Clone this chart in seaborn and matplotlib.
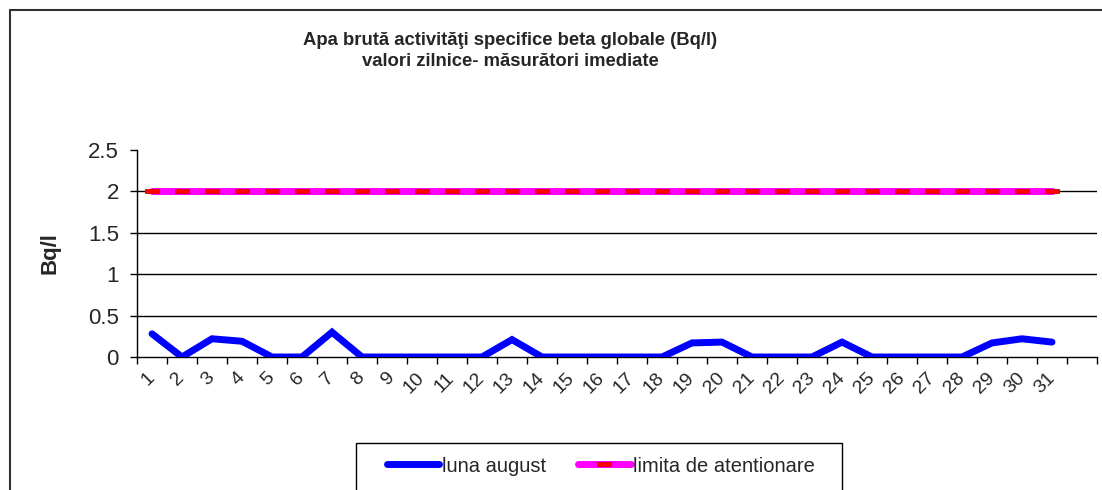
import matplotlib
matplotlib.use("Agg")
import matplotlib.pyplot as plt
import seaborn as sns
import pandas as pd
import numpy as np
from matplotlib.patches import Rectangle
from matplotlib.lines import Line2D

days = list(range(1, 32))
august = [0.28, 0.0, 0.22, 0.19, 0.0, 0.0, 0.30, 0.0, 0.0, 0.0,
          0.0, 0.0, 0.21, 0.0, 0.0, 0.0, 0.0, 0.0, 0.17, 0.18,
          0.0, 0.0, 0.0, 0.18, 0.0, 0.0, 0.0, 0.0, 0.17, 0.22, 0.18]
limit = [2.0] * 31
y_ticks = [0, 0.5, 1, 1.5, 2, 2.5]
y_tick_labels = ["0", "0.5", "1", "1.5", "2", "2.5"]

title = "Apa brută activităţi specifice beta globale (Bq/l)\nvalori zilnice- măsurători imediate"
ylabel = "Bq/l"
series_names = ["luna august", "limita de atentionare"]

sns.set_style("white")
plt.rcParams['font.family'] = ['Liberation Sans', 'DejaVu Sans']

df = pd.DataFrame({"day": days, "august": august, "limit": limit})

fig = plt.figure(figsize=(11.02, 4.9), dpi=100)
ax = fig.add_axes([137/1102, 1-357/490, (1097-137)/1102, (357-150)/490])

# limit series: magenta thick line with red dash markers
dash = [(-1, -0.22), (1, -0.22), (1, 0.22), (-1, 0.22), (-1, -0.22)]
sns.lineplot(data=df, x="day", y="limit", ax=ax, color="#FF00FF", linewidth=5,
             marker=dash, markersize=10, markerfacecolor="#FF0000",
             markeredgecolor="#E00000", markeredgewidth=0.6,
             solid_capstyle="round", label=series_names[1], zorder=3)
sns.lineplot(data=df, x="day", y="august", ax=ax, color="#0000FF", linewidth=5,
             solid_capstyle="round", solid_joinstyle="miter",
             label=series_names[0], zorder=4)

ax.set_xlim(0.5, 32.5)
ax.set_ylim(0, 2.5)
ax.set_yticks(y_ticks)
ax.set_yticklabels(y_tick_labels, fontsize=16)
ax.set_xticks(days)
ax.set_xticklabels([str(d) for d in days], fontsize=14, rotation=45,
                   ha="right", va="center", rotation_mode="anchor")
ax.set_xticks(np.arange(0.5, 33.0, 1.0), minor=True)
ax.tick_params(axis="x", which="major", length=0, pad=13)
ax.tick_params(axis="x", which="minor", length=5, width=1, color="black", direction="out", bottom=True)
ax.tick_params(axis="y", which="major", length=5, width=1, color="black", direction="out", left=True, pad=8)

for yv in [0.5, 1, 1.5, 2]:
    ax.axhline(yv, color="black", linewidth=1, zorder=1)

for s in ["top", "right"]:
    ax.spines[s].set_visible(False)
for s in ["left", "bottom"]:
    ax.spines[s].set_color("black")
    ax.spines[s].set_linewidth(1)
ax.grid(False)

ax.set_xlabel("")
ax.set_ylabel(ylabel, fontsize=16, fontweight="bold")
ax.yaxis.set_label_coords((60 - 137)/960, 0.5)

# legend
handles, labels = ax.get_legend_handles_labels()
order = [labels.index(series_names[0]), labels.index(series_names[1])]
ax.get_legend().remove()
leg = fig.legend([handles[i] for i in order], [labels[i] for i in order],
                 loc="center", bbox_to_anchor=(601/1102, 1-466/490), ncol=2,
                 frameon=False, fontsize=14.5, handlelength=2.6, handletextpad=0.12,
                 columnspacing=1.6)
fig.add_artist(Rectangle((356/1102, -0.01), (842-356)/1102, (490-443)/490 + 0.01,
                         transform=fig.transFigure, fill=False, edgecolor="black",
                         linewidth=1))

# title
fig.text(510/1102, 1-51/490, title, ha="center", va="center", fontsize=13.3,
         fontweight="bold", linespacing=1.3)

# chart border (left and top visible)
fig.add_artist(Line2D([9.5/1102, 9.5/1102], [0, 1-10/490], transform=fig.transFigure,
                      color="#303030", linewidth=1.5))
fig.add_artist(Line2D([9.5/1102, 1], [1-10/490, 1-10/490], transform=fig.transFigure,
                      color="#303030", linewidth=1.5))

fig.savefig("out.png", dpi=100, facecolor="white")
